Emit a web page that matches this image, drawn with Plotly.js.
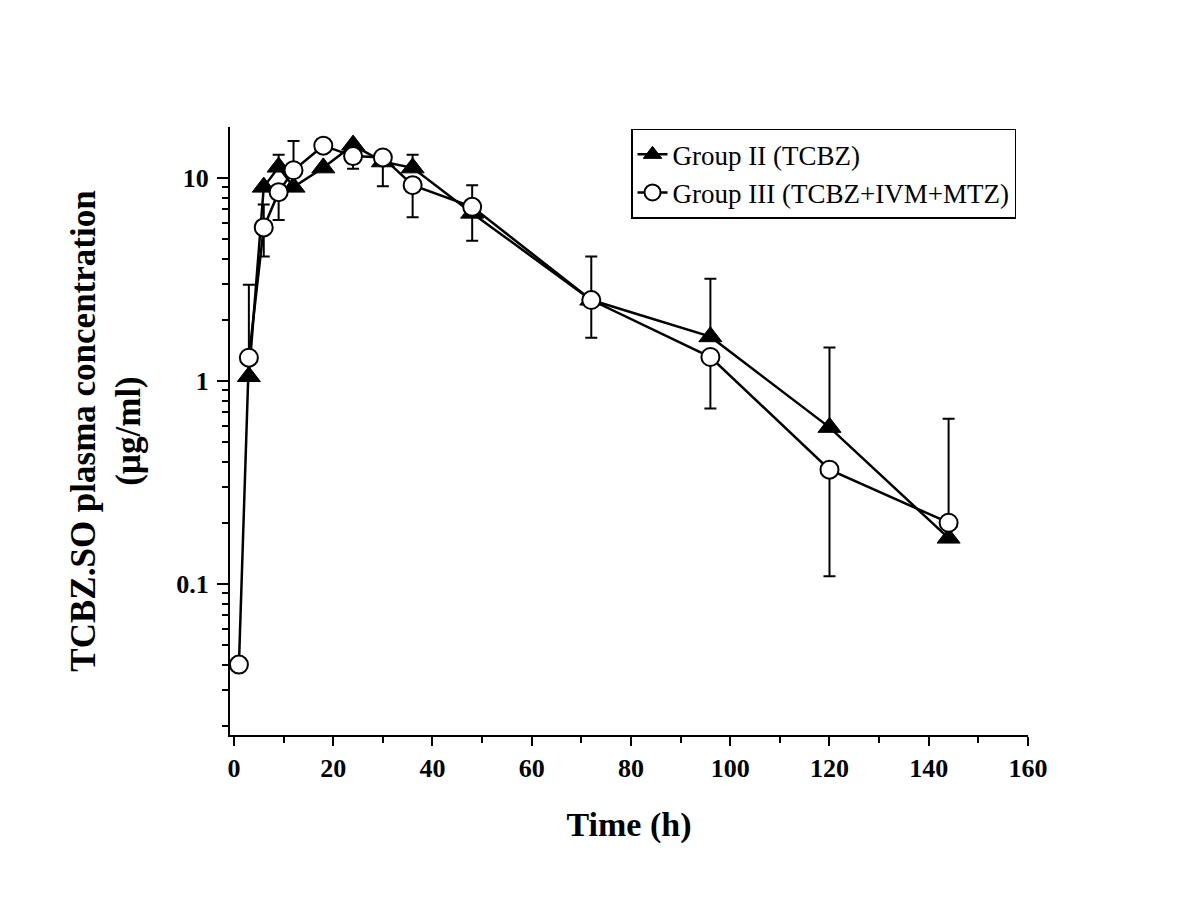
<!DOCTYPE html>
<html>
<head>
<meta charset="utf-8">
<script src="https://cdn.plot.ly/plotly-3.0.1.min.js"></script>
<style>
  html, body { margin: 0; padding: 0; background: #fff; }
  #chart { width: 1200px; height: 900px; }
</style>
</head>
<body>
<div id="chart"></div>
<script>
// Group II (TCBZ)
var timeII = [3, 6, 9, 12, 18, 24, 30, 36, 48, 72, 96, 120, 144];
var concII = [1.05, 9.0, 11.3, 9.0, 11.2, 14.5, 12.0, 11.2, 6.7, 2.5, 1.65, 0.59, 0.168];
var errPlusII  = [0, 0, 1.7, 0, 0, 0, 0, 1.8, 0, 0, 1.53, 0.87, 0];
var errMinusII = [0, 0, 0, 0, 0, 0, 0, 0, 0, 0, 0, 0, 0];

// Group III (TCBZ+IVM+MTZ)
var timeIII = [1, 3, 6, 9, 12, 18, 24, 30, 36, 48, 72, 96, 120, 144];
var concIII = [0.04, 1.3, 5.7, 8.5, 10.9, 14.4, 12.8, 12.6, 9.2, 7.2, 2.5, 1.31, 0.365, 0.2];
var errPlusIII  = [0, 1.67, 1.7, 0, 4.3, 0, 0, 0, 0, 2.0, 1.6, 0, 0, 0.45];
var errMinusIII = [0, 0, 1.6, 2.3, 0, 0, 1.7, 3.5, 2.8, 2.3, 0.87, 0.58, 0.256, 0];

var seriesNames = ['Group II (TCBZ)', 'Group III (TCBZ+IVM+MTZ)'];
var yTickVals = [0.1, 1, 10];
var yTickText = ['0.1', '1', '10'];
var yMinorVals = [0.02, 0.03, 0.04, 0.05, 0.06, 0.07, 0.08, 0.09,
                  0.2, 0.3, 0.4, 0.5, 0.6, 0.7, 0.8, 0.9,
                  2, 3, 4, 5, 6, 7, 8, 9];

var FONT = '"Liberation Serif", "Times New Roman", Times, serif';

var traces = [
  {
    x: timeII, y: concII, name: seriesNames[0],
    type: 'scatter', mode: 'lines+markers',
    line: { color: '#000', width: 2.5 },
    marker: { symbol: 'triangle-up', size: 20, color: '#000', line: { color: '#000', width: 1 } },
    error_y: { type: 'data', symmetric: false, array: errPlusII, arrayminus: errMinusII,
               color: '#000', thickness: 2, width: 6 }
  },
  {
    x: timeIII, y: concIII, name: seriesNames[1],
    type: 'scatter', mode: 'lines+markers',
    line: { color: '#000', width: 2.5 },
    marker: { symbol: 'circle', size: 18, color: '#fff', line: { color: '#000', width: 2 } },
    error_y: { type: 'data', symmetric: false, array: errPlusIII, arrayminus: errMinusIII,
               color: '#000', thickness: 2, width: 6 }
  }
];

var layout = {
  width: 1200, height: 900,
  paper_bgcolor: '#fff', plot_bgcolor: '#fff',
  margin: { l: 230, r: 172, t: 127, b: 165 },
  font: { family: FONT, color: '#000' },
  showlegend: true,
  legend: {
    x: 0.985, xanchor: 'right', y: 0.997, yanchor: 'top',
    bordercolor: '#000', borderwidth: 1.5, bgcolor: '#fff',
    font: { family: FONT, size: 27, color: '#000' },
    tracegroupgap: 0
  },
  xaxis: {
    range: [-0.8, 160],
    tickmode: 'linear', tick0: 0, dtick: 20,
    ticks: 'outside', ticklen: 9, tickwidth: 2, tickcolor: '#000',
    minor: { ticks: 'outside', dtick: 10, tick0: 0, ticklen: 6, tickwidth: 2, tickcolor: '#000' },
    showline: true, linecolor: '#000', linewidth: 2,
    showgrid: false, zeroline: false, mirror: false,
    tickfont: { family: FONT, size: 26, color: '#000', weight: 'bold' },
    title: { text: '<b>Time (h)</b>', font: { family: FONT, size: 34, color: '#000' }, standoff: 30 }
  },
  yaxis: {
    type: 'log',
    range: [Math.log10(0.018), Math.log10(17.8)],
    tickmode: 'array', tickvals: yTickVals, ticktext: yTickText,
    ticks: 'outside', ticklen: 11, tickwidth: 2, tickcolor: '#000',
    ticklabelstandoff: 3,
    minor: { ticks: 'outside', tickmode: 'array', tickvals: yMinorVals, ticklen: 6, tickwidth: 2, tickcolor: '#000' },
    showline: true, linecolor: '#000', linewidth: 2,
    showgrid: false, zeroline: false, mirror: false,
    tickfont: { family: FONT, size: 26, color: '#000', weight: 'bold' },
    title: { text: '<b>TCBZ.SO plasma concentration<br>(µg/ml)</b>', font: { family: FONT, size: 35, color: '#000' }, standoff: 25 }
  }
};

Plotly.newPlot('chart', traces, layout, { displayModeBar: false, staticPlot: true });
</script>
</body>
</html>
